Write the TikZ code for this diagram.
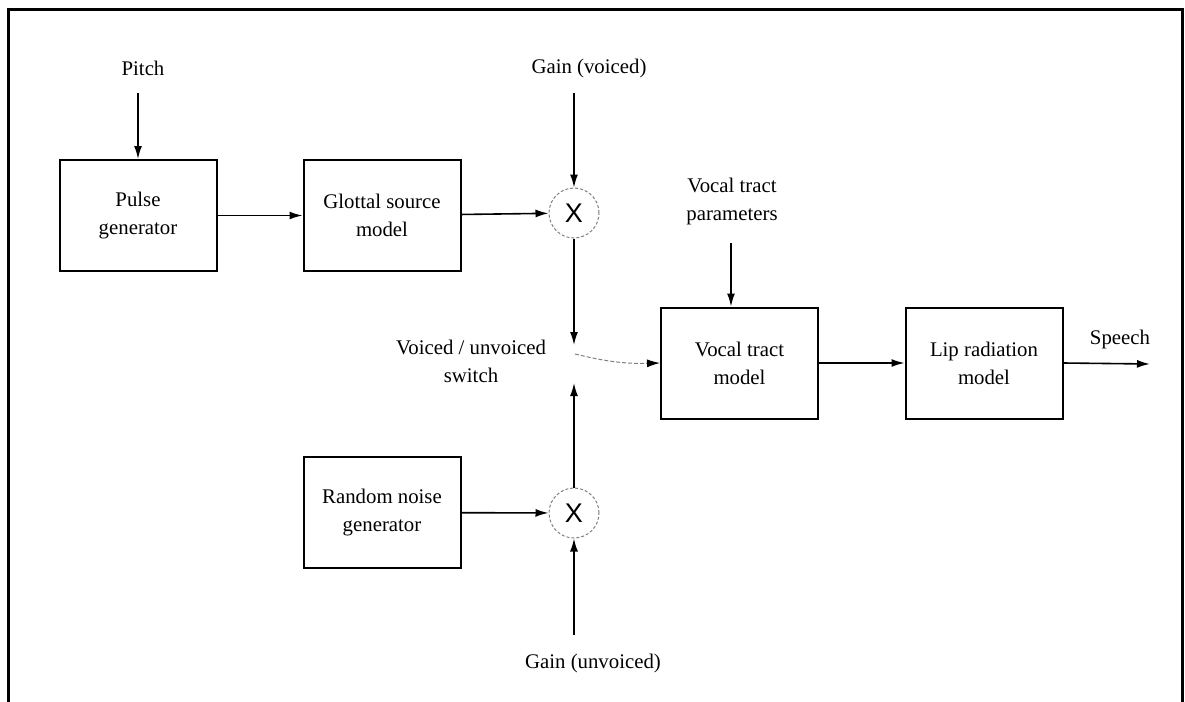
\documentclass[tikz,border=0pt]{standalone}
\usepackage{fontspec}
\setmainfont{Liberation Serif}
\newfontfamily\mulfont{Liberation Sans}
\usetikzlibrary{arrows.meta}

\begin{document}
\begin{tikzpicture}[x=0.5pt,y=-0.5pt,
   txt/.style={align=center,inner sep=0pt,font=\fontsize{10.4}{14}\selectfont},
   block/.style={txt,draw,line width=1pt,minimum width=78.5pt,minimum height=55.5pt},
   mixer/.style={circle,draw=gray,line width=0.5pt,dash pattern=on 1.5pt off 1pt,
                 minimum size=25pt,inner sep=0pt,font=\mulfont\fontsize{13.5}{13.5}\selectfont},
   sig/.style={-{Latex[length=6.5pt,width=4pt]},line width=0.8pt}]
   \useasboundingbox (0,0) rectangle (1185,702);
   % frame, open at the bottom
   \draw[line width=1.5pt] (8,702) -- (8,9) -- (1182,9) -- (1182,702);

   % blocks
   \node[block] (pulse)   at (138,215.5) {Pulse\\generator};
   \node[block] (glottal) at (382,215.5) {Glottal source\\model};
   \node[block] (noise)   at (382,512.5) {Random noise\\generator};
   \node[block] (vocal)   at (739.5,363) {Vocal tract\\model};
   \node[block] (lip)     at (984,363)   {Lip radiation\\model};

   % gains
   \node[mixer] (mulv) at (574,213) {X};
   \node[mixer] (mulu) at (574,513) {X};

   % labels
   \node[txt] (pitch)   at (143,68)  {Pitch};
   \node[txt] (gainv)   at (589,68)  {Gain (voiced)};
   \node[txt] (gainu)   at (593,663) {Gain (unvoiced)};
   \node[txt] (params)  at (732,201) {Vocal tract\\parameters};
   \node[txt] (switch)  at (471,361) {Voiced / unvoiced\\switch};
   \node[txt] (speech)  at (1120,339) {Speech};

   \coordinate (pitchin) at (138,93);
   \coordinate (gainvin) at (574,93);
   \coordinate (gainuin) at (574,635);
   \coordinate (paramin) at (731,243);
   \coordinate (swup)    at (574,345);
   \coordinate (swdown)  at (574,383);
   \coordinate (swpivot) at (575,354);
   \coordinate (out)     at (1150,364);

   % voiced path
   \draw[sig] (pitchin) -- (pulse.north);
   \draw[sig] (pulse) -- (glottal);
   \draw[sig] (glottal) -- (mulv);
   \draw[sig] (gainvin) -- (mulv.north);
   \draw[sig] (mulv.south) -- (swup);

   % unvoiced path
   \draw[sig] (noise) -- (mulu);
   \draw[sig] (gainuin) -- (mulu.south);
   \draw[sig] (mulu.north) -- (swdown);

   % switch
   \draw[gray,line width=0.5pt,dash pattern=on 2pt off 1pt,
         -{Latex[length=6.5pt,width=4pt,black]}]
      (swpivot) .. controls (600,360) and (620,364) .. (vocal.west);

   % vocal tract and output
   \draw[sig] (paramin) -- (paramin |- vocal.north);
   \draw[sig] (vocal) -- (lip);
   \draw[sig] (lip.east) -- (out);
\end{tikzpicture}
\end{document}
